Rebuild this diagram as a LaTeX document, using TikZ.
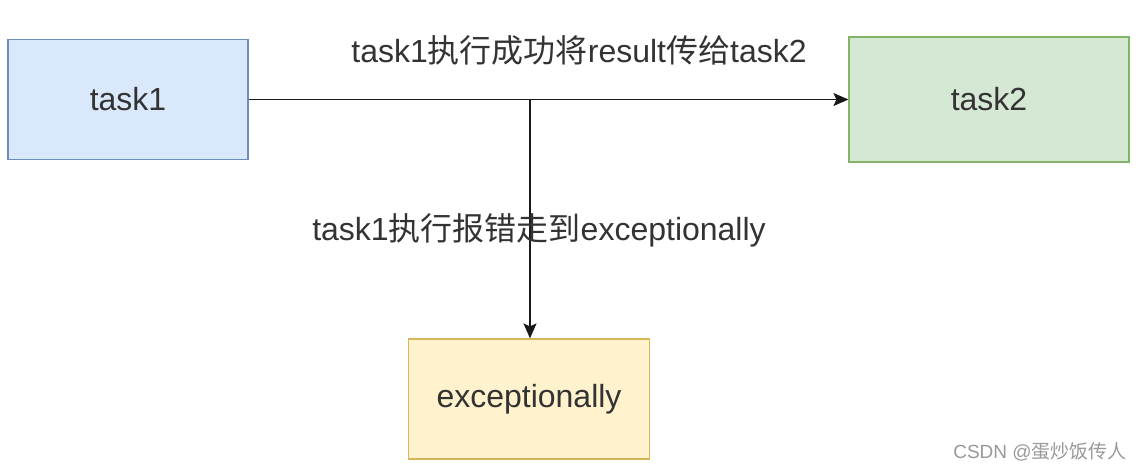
\documentclass[tikz,border=0pt]{standalone}
\usepackage{fontspec}
\setmainfont{Liberation Sans}
\newfontfamily\cjk{Noto Sans CJK SC}
\usetikzlibrary{arrows.meta}
\definecolor{bluefill}{HTML}{DAE8FC}
\definecolor{bluedraw}{HTML}{6C8EBF}
\definecolor{greenfill}{HTML}{D5E8D4}
\definecolor{greendraw}{HTML}{82B366}
\definecolor{yellowfill}{HTML}{FFF2CC}
\definecolor{yellowdraw}{HTML}{D6B656}
\definecolor{txt}{HTML}{333333}
\definecolor{wm}{HTML}{999999}
\tikzset{
  box/.style={draw, line width=1.2pt, minimum width=#1, minimum height=120pt, inner sep=0pt, text=txt, font=\fontsize{32}{38}\selectfont},
  lbl/.style={text=txt, font=\fontsize{32}{38}\selectfont, inner sep=0pt},
  conn/.style={line width=1.4pt, draw=black!90},
  arr/.style={conn, -{Stealth[length=15pt,width=13pt,inset=3pt]}}
}
\begin{document}
\begin{tikzpicture}[x=1pt,y=-1pt]
\useasboundingbox[fill=white] (0,0) rectangle (1142,472);
\node[box=240pt, fill=bluefill, draw=bluedraw] (t1) at (128,99.5) {task1};
\node[box=280pt, fill=greenfill, draw=greendraw, minimum height=125pt] (t2) at (989,99.5) {task2};
\node[box=241pt, fill=yellowfill, draw=yellowdraw] (ex) at (529,399) {exceptionally};
\coordinate (j) at (530,99.5);
\draw[arr] (t1.east) -- (t2.west);
\draw[arr] (j) -- (j |- ex.north);
\node[lbl] (l1) at (579,50) {task1{\cjk 执行成功将}result{\cjk 传给}task2};
\node[lbl] (l2) at (539,230) {task1{\cjk 执行报错走到}exceptionally};
\node[text=wm, font=\fontsize{19}{22}\selectfont, inner sep=0pt] (w) at (1040,452) {CSDN @{\cjk 蛋炒饭传人}};
\end{tikzpicture}
\end{document}
